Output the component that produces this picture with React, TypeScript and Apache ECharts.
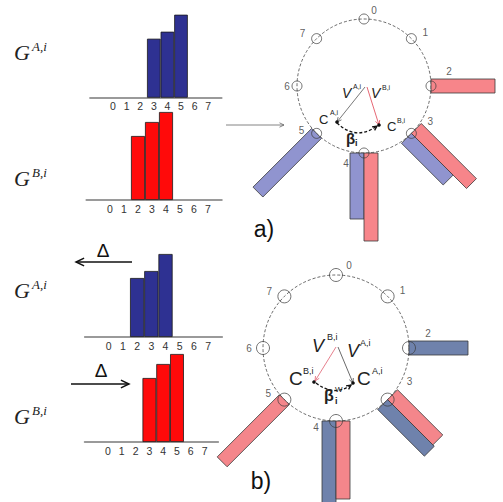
import React, { useEffect, useRef } from "react";
import * as echarts from "echarts";

// ---------- data ----------
const BINS = [0, 1, 2, 3, 4, 5, 6, 7];
const HIST_A = [0, 0, 0, 5.9, 6.6, 8.3, 0, 0];
const HIST_B = [0, 0, 6.4, 7.8, 8.8, 0, 0, 0];
const DELTA = 1;
const HIST_A_SHIFT = BINS.map((i) => HIST_A[i + DELTA] ?? 0);
const HIST_B_SHIFT = BINS.map((i) => HIST_B[i - DELTA] ?? 0);

// ---------- layout / style ----------
const HIST_GRIDS = [
  { left: 89.9, width: 131.9, top: 7.7, unit: 13.6, color: "#2E3192", data: HIST_A },
  { left: 86.2, width: 135.8, top: 110, unit: 14, color: "#FF0A0A", data: HIST_B },
  { left: 84.6, width: 137.7, top: 247, unit: 14.2, color: "#2E3192", data: HIST_A_SHIFT },
  { left: 84.5, width: 133.9, top: 352, unit: 13.8, color: "#FF0A0A", data: HIST_B_SHIFT },
];
const POLARS = [
  { center: [364, 86], r0: 6.7, max: 15.6, blue: "#9094CF", red: "#F7858A", A: HIST_A, B: HIST_B, mark: 10 },
  { center: [336, 348], r0: 7.3, max: 16.2, blue: "#6F82AC", red: "#F4868B", A: HIST_A_SHIFT, B: HIST_B_SHIFT, mark: 13 },
];
const LABEL_OFF = [
  [[10, -9], [14, -6], [18, -15], [19, -12], [-18, 10], [-15, -3], [-10, 0], [-14, -5]],
  [[13, -10], [15, -6], [19, -15], [22, -18], [-20, 6], [-16, -6], [-14, 0], [-15, -5]],
];
const BAR_W = 14;
const SANS = '"Liberation Sans"';
const SERIF = '"Liberation Serif"';

function T(text: string, x: number, y: number, font: string, fill = "#222", align = "left") {
  return { type: "text", x, y, style: { text, font, fill, align, verticalAlign: "middle" } };
}
function arrowHead(x1: number, y1: number, x2: number, y2: number, len: number, stroke: string, w: number) {
  const a = Math.atan2(y2 - y1, x2 - x1);
  return {
    type: "polyline",
    shape: {
      points: [
        [x2 - len * Math.cos(a - 0.45), y2 - len * Math.sin(a - 0.45)],
        [x2, y2],
        [x2 - len * Math.cos(a + 0.45), y2 - len * Math.sin(a + 0.45)],
      ],
    },
    style: { stroke, lineWidth: w, fill: "none" },
  };
}
function arrow(x1: number, y1: number, x2: number, y2: number, stroke: string, w: number, len: number) {
  return [
    { type: "line", shape: { x1, y1, x2, y2 }, style: { stroke, lineWidth: w } },
    arrowHead(x1, y1, x2, y2, len, stroke, w),
  ];
}
function curved(x1: number, y1: number, cx: number, cy: number, x2: number, y2: number) {
  return [
    {
      type: "bezierCurve",
      shape: { x1, y1, x2, y2, cpx1: cx, cpy1: cy },
      style: { stroke: "#111", lineWidth: 1.3, lineDash: [3, 2], fill: "none" },
    },
    arrowHead(cx, cy, x2, y2, 5, "#111", 1.3),
  ];
}
function dot(x: number, y: number) {
  return { type: "circle", shape: { cx: x, cy: y, r: 1.8 }, style: { fill: "#111" } };
}

function polarBarData(A: number[], B: number[], which: "A" | "B") {
  const out: number[][] = [];
  BINS.forEach((i) => {
    const a = A[i], b = B[i];
    const v = which === "A" ? a : b;
    if (v > 0) {
      const both = a > 0 && b > 0;
      out.push([v, i, both ? (which === "A" ? 1 : -1) : 0]);
    }
  });
  return out;
}

function polarBarSeries(pi: number, r0: number, data: number[][], color: string) {
  return {
    type: "custom",
    coordinateSystem: "polar",
    polarIndex: pi,
    silent: true,
    z: 2,
    data,
    renderItem: (params: any, api: any) => {
      const len = api.value(0), bin = api.value(1), side = api.value(2);
      const p0 = api.coord([r0, bin]);
      const p1 = api.coord([r0 + len, bin]);
      const dx = p1[0] - p0[0], dy = p1[1] - p0[1];
      const L = Math.hypot(dx, dy) || 1;
      const ux = dx / L, uy = dy / L;
      const nx = -uy, ny = ux;
      let a = -BAR_W / 2, b = BAR_W / 2;
      if (side > 0) { a = 0; b = BAR_W; }
      if (side < 0) { a = -BAR_W; b = 0; }
      return {
        type: "polygon",
        shape: {
          points: [
            [p0[0] + nx * a, p0[1] + ny * a],
            [p0[0] + nx * b, p0[1] + ny * b],
            [p1[0] + nx * b, p1[1] + ny * b],
            [p1[0] + nx * a, p1[1] + ny * a],
          ],
        },
        style: { fill: color, stroke: "#3a3a3a", lineWidth: 0.8 },
      };
    },
  };
}

export default function App() {
  const ref = useRef<HTMLDivElement>(null);
  useEffect(() => {
    const chart = echarts.init(ref.current!, null, { renderer: "svg" });

    const graphic: any[] = [];
    // G labels
    const gY = [52, 178, 290, 416];
    const gSup = ["A,i", "B,i", "A,i", "B,i"];
    gY.forEach((y, k) => {
      graphic.push(T("G", 14, y, `italic 22px ${SERIF}`, "#222"));
      graphic.push(T(gSup[k], 32, y - 6, `italic 13px ${SERIF}`, "#222"));
    });
    // Delta arrows
    graphic.push(T("Δ", 103, 250, `19px ${SANS}`, "#111", "center"));
    graphic.push(...arrow(132, 262, 76, 262, "#111", 1.5, 9));
    graphic.push(T("Δ", 101, 370, `19px ${SANS}`, "#111", "center"));
    graphic.push(...arrow(71, 384, 129, 384, "#111", 1.5, 9));
    // arrow into circle a
    graphic.push(...arrow(226, 125, 284, 125, "#666", 0.8, 5));
    // circles
    POLARS.forEach((p, k) => {
      const r = p.r0 * 10;
      graphic.push({
        type: "circle",
        shape: { cx: p.center[0], cy: p.center[1], r },
        style: { fill: "none", stroke: "#444", lineWidth: 0.8, lineDash: [3, 2] },
      });
    });
    // a) inner annotation
    graphic.push(...arrow(365, 87, 337, 122, "#555", 0.8, 5));
    graphic.push(...arrow(367, 87, 379, 125, "#E04050", 0.8, 5));
    graphic.push(dot(337, 122), dot(379, 125));
    graphic.push(...curved(337, 123, 356, 141, 377, 126));
    graphic.push(T("V", 342, 93, `italic 14px ${SANS}`));
    graphic.push(T("A,i", 353, 86, `7px ${SANS}`));
    graphic.push(T("V", 371, 93, `italic 14px ${SANS}`));
    graphic.push(T("B,i", 382, 87, `7px ${SANS}`));
    graphic.push(T("C", 319, 119, `13px ${SANS}`));
    graphic.push(T("A,i", 330, 112, `7px ${SANS}`));
    graphic.push(T("C", 387, 126, `13px ${SANS}`));
    graphic.push(T("B,i", 397, 120, `7px ${SANS}`));
    graphic.push(T("β", 346, 138, `bold 15px ${SANS}`));
    graphic.push(T("i", 355, 143, `bold 9px ${SANS}`));
    graphic.push(T("a)", 264, 229, `23px ${SANS}`, "#111", "center"));
    // b) inner annotation
    graphic.push(...arrow(336, 347, 315, 381, "#E06070", 0.8, 5));
    graphic.push(...arrow(338, 347, 353, 383, "#444", 0.8, 5));
    graphic.push(dot(314, 382), dot(353, 383));
    graphic.push(...curved(316, 383, 334, 397, 351, 385));
    graphic.push(T("V", 312, 346, `italic 18px ${SANS}`));
    graphic.push(T("B,i", 327, 337, `9px ${SANS}`));
    graphic.push(T("V", 347, 351, `italic 18px ${SANS}`));
    graphic.push(T("A,i", 360, 343, `9px ${SANS}`));
    graphic.push(T("C", 289, 378, `19px ${SANS}`));
    graphic.push(T("B,i", 303, 371, `9px ${SANS}`));
    graphic.push(T("C", 357, 378, `19px ${SANS}`));
    graphic.push(T("A,i", 372, 371, `9px ${SANS}`));
    graphic.push(T("β", 324, 395, `bold 16px ${SANS}`));
    graphic.push(T("i", 335, 401, `bold 9px ${SANS}`));
    graphic.push(T("W", 335, 389, `8px ${SANS}`));
    graphic.push(T("b)", 261, 481, `23px ${SANS}`, "#111", "center"));

    const series: any[] = [];
    HIST_GRIDS.forEach((g, k) => {
      series.push({
        type: "bar",
        xAxisIndex: k,
        yAxisIndex: k,
        barWidth: g.unit,
        silent: true,
        data: BINS.filter((i) => g.data[i] > 0).map((i) => [i, g.data[i]]),
        itemStyle: { color: g.color, borderColor: "#1a1a1a", borderWidth: 0.8 },
      });
    });
    POLARS.forEach((p, k) => {
      series.push(polarBarSeries(k, p.r0, polarBarData(p.A, p.B, "A"), p.blue));
      series.push(polarBarSeries(k, p.r0, polarBarData(p.A, p.B, "B"), p.red));
      series.push({
        type: "scatter",
        coordinateSystem: "polar",
        polarIndex: k,
        silent: true,
        z: 5,
        symbol: "circle",
        symbolSize: p.mark,
        data: BINS.map((i) => ({ value: [p.r0, i], label: { offset: LABEL_OFF[k][i] } })),
        itemStyle: { color: "rgba(255,255,255,0)", borderColor: "#3a3a3a", borderWidth: 0.9 },
        label: {
          show: true,
          position: "inside",
          formatter: (q: any) => String(q.value[1]),
          color: "#333",
          fontSize: 10,
          fontFamily: "Liberation Sans",
        },
      });
    });

    chart.setOption({
      animation: false,
      backgroundColor: "#ffffff",
      grid: HIST_GRIDS.map((g) => ({ left: g.left, width: g.width, top: g.top, height: 90 })),
      xAxis: HIST_GRIDS.map((g, k) => ({
        gridIndex: k,
        type: "value",
        min: -1.7,
        max: 8,
        axisLine: { show: true, onZero: false, lineStyle: { color: "#7a7a7a", width: 1.5 } },
        axisTick: { show: false },
        splitLine: { show: false },
        axisLabel: { customValues: BINS, color: "#333", fontSize: 10.5, margin: 3, fontFamily: "Liberation Sans" },
      })),
      yAxis: HIST_GRIDS.map((g, k) => ({ gridIndex: k, type: "value", min: 0, max: 9, show: false })),
      polar: POLARS.map((p) => ({ center: p.center, radius: p.max * 10 })),
      angleAxis: POLARS.map((p, k) => ({
        polarIndex: k,
        type: "value",
        min: 0,
        max: 8,
        startAngle: 90,
        clockwise: true,
        show: false,
      })),
      radiusAxis: POLARS.map((p, k) => ({ polarIndex: k, type: "value", min: 0, max: p.max, show: false })),
      graphic,
      series,
    });
    return () => chart.dispose();
  }, []);
  return (
    <div
      ref={ref}
      style={{ position: "fixed", left: 0, top: 0, width: 503, height: 502, background: "#fff" }}
    />
  );
}
